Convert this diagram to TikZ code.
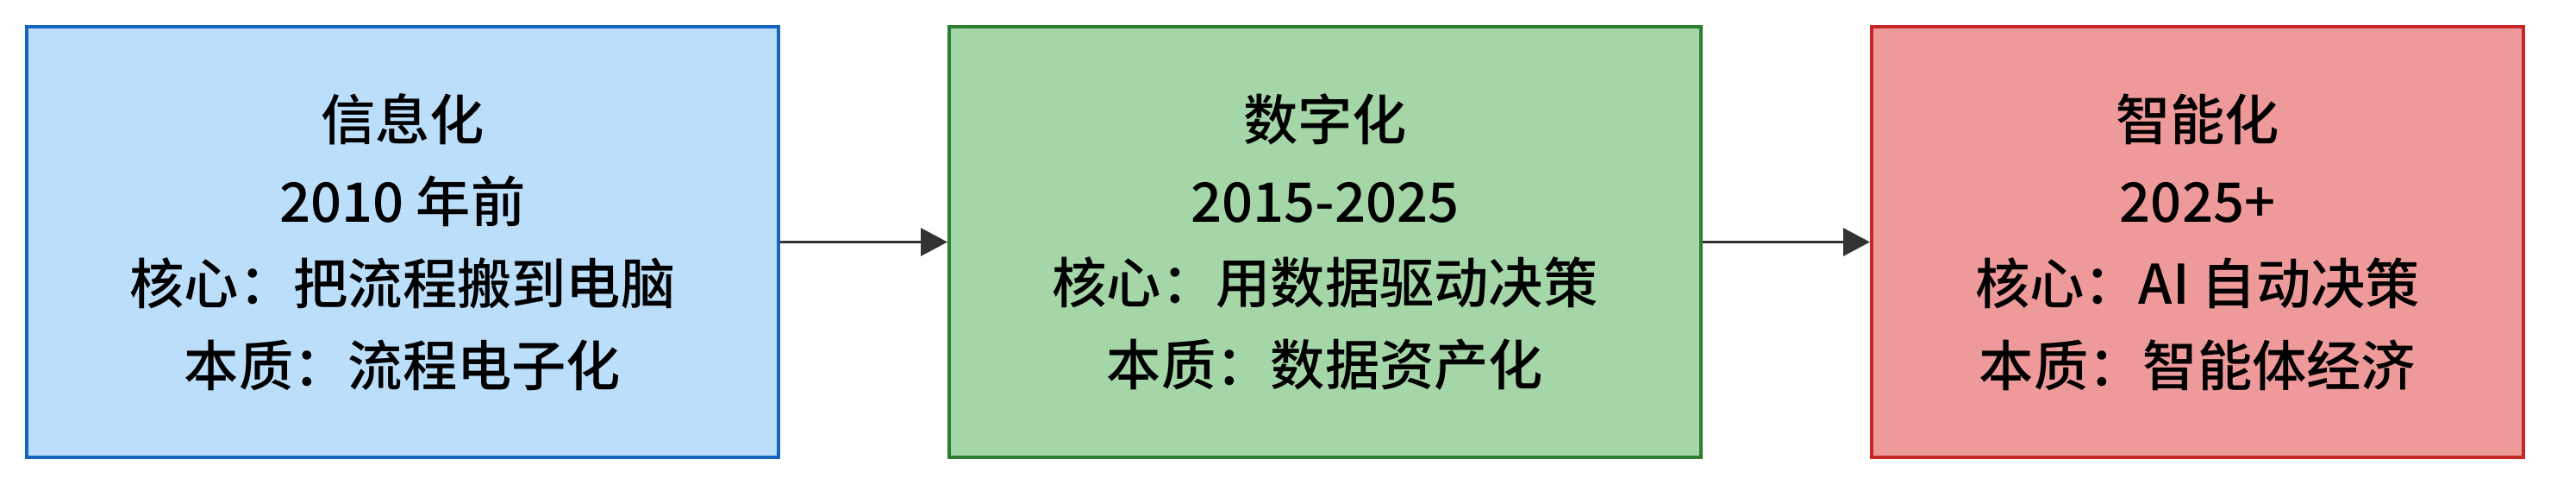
\documentclass[tikz,border=0pt]{standalone}
\usepackage{fontspec}
\setmainfont{Noto Sans CJK SC}[UprightFont=* Medium]
\usepackage{xcolor}
\usepackage{tikz}
\usetikzlibrary{arrows.meta, positioning}
\definecolor{infofill}{HTML}{BBDEFB}
\definecolor{infodraw}{HTML}{1565C0}
\definecolor{digifill}{HTML}{A5D6A7}
\definecolor{digidraw}{HTML}{2E7D32}
\definecolor{smartfill}{HTML}{EF9A9A}
\definecolor{smartdraw}{HTML}{C62828}
\definecolor{arrowgray}{HTML}{333333}
\tikzset{stage/.style={rectangle,draw,line width=0.04cm,align=center,minimum width=8.72cm,minimum height=4.99cm,inner sep=0pt,font=\fontsize{18}{27}\selectfont},
         arrow/.style={-{Triangle[length=0.31cm,width=0.32cm]},line width=0.035cm,draw=arrowgray,fill=arrowgray}}

\begin{document}
\begin{tikzpicture}[node distance=1.94cm]
    \useasboundingbox (0,0) rectangle (29.88,-5.68);
    % Stages
    \node (info) [stage, fill=infofill, draw=infodraw] at (4.67,-2.805) {信息化\\2010 年前\\核心：把流程搬到电脑\\本质：流程电子化};
    \node (digital) [stage, fill=digifill, draw=digidraw, right=of info] {数字化\\2015-2025\\核心：用数据驱动决策\\本质：数据资产化};
    \node (smart) [stage, fill=smartfill, draw=smartdraw, minimum width=7.56cm, right=of digital] {智能化\\2025+\\核心：AI 自动决策\\本质：智能体经济};
    % Arrows
    \draw[arrow] (info) -- (digital);
    \draw[arrow] (digital) -- (smart);
\end{tikzpicture}
\end{document}
